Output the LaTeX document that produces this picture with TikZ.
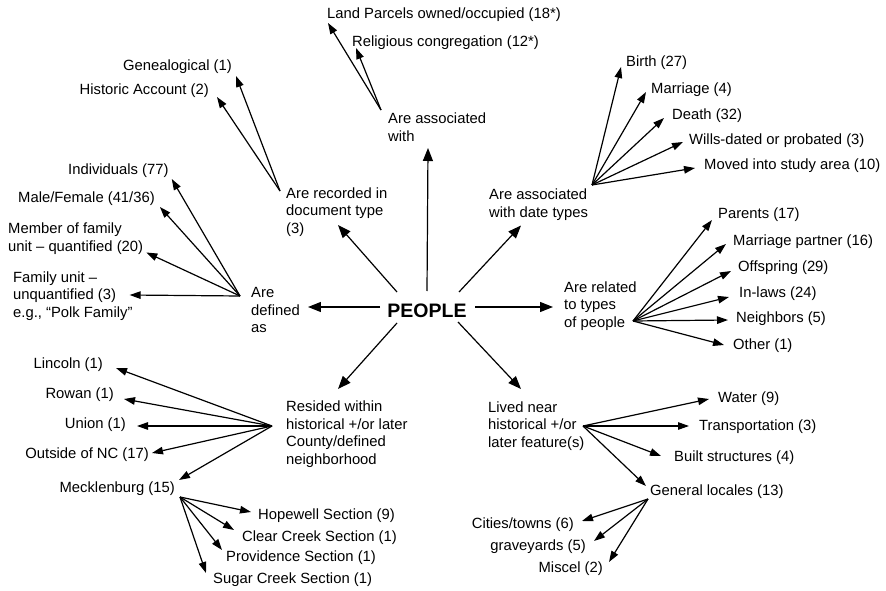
\documentclass[tikz,border=0pt]{standalone}
\usepackage{fontspec}
\setmainfont{Liberation Sans}
\usetikzlibrary{arrows.meta,calc}
\begin{document}
\begin{tikzpicture}[x=1pt,y=-1pt,
  lbl/.style={inner sep=1pt, font=\fontsize{14.8}{17.5}\selectfont, align=left},
  lw/.style={lbl, anchor=west},
  le/.style={lbl, anchor=east},
  arr/.style={-{Triangle[length=11pt,width=7.5pt]}, line width=1.2pt},
  mainarr/.style={-{Triangle[length=13pt,width=10pt]}, line width=1.2pt},
  ]
\useasboundingbox[fill=white] (0,0) rectangle (886,591);

% centre
\node[lbl, font=\bfseries\fontsize{19.5}{22}\selectfont] (people) at (427,311) {PEOPLE};

% second-level nodes
\node[lw] (assoc) at (387,127) {Are associated\\with};
\node[lw] (recorded) at (285,212) {Are recorded in\\document type\\(3)};
\node[lw] (defined) at (250,310) {Are\\defined\\as};
\node[lw] (dates) at (488,204.5) {Are associated\\with date types};
\node[lw] (related) at (563,306) {Are related\\to types\\of people};
\node[lw] (resided) at (285,434) {Resided within\\historical +/or later\\County/defined\\neighborhood};
\node[lw] (lived) at (487,426) {Lived near\\historical +/or\\later feature(s)};

% leaves
\node[lw] (land) at (326,15) {Land Parcels owned/occupied (18*)};
\node[lw] (relig) at (351,43) {Religious congregation (12*)};
\node[le] (geneal) at (233,67) {Genealogical (1)};
\node[le] (hist) at (210,91) {Historic Account (2)};
\node[lw] (ind) at (67,171) {Individuals (77)};
\node[lw] (male) at (17,199) {Male/Female (41/36)};
\node[lw] (member) at (7,238.5) {Member of family\\unit – quantified (20)};
\node[lw] (famunit) at (12,296) {Family unit –\\unquantified (3)\\e.g., “Polk Family”};
\node[lw] (birth) at (625,63) {Birth (27)};
\node[lw] (marriage) at (650,90) {Marriage (4)};
\node[lw] (death) at (671,116) {Death (32)};
\node[lw] (wills) at (688,141) {Wills-dated or probated (3)};
\node[lw] (moved) at (703,166) {Moved into study area (10)};
\node[lw] (parents) at (717,215) {Parents (17)};
\node[lw] (partner) at (732,242) {Marriage partner (16)};
\node[lw] (offspring) at (737,268) {Offspring (29)};
\node[lw] (inlaws) at (738,294) {In-laws (24)};
\node[lw] (neighbors) at (735,319) {Neighbors (5)};
\node[lw] (other) at (732,346) {Other (1)};
\node[le] (lincoln) at (104,365) {Lincoln (1)};
\node[le] (rowan) at (115,395) {Rowan (1)};
\node[le] (union) at (127,425) {Union (1)};
\node[le] (outside) at (150,455) {Outside of NC (17)};
\node[le] (meck) at (176,489) {Mecklenburg (15)};
\node[lw] (hopewell) at (257,516) {Hopewell Section (9)};
\node[lw] (clear) at (241,538) {Clear Creek Section (1)};
\node[lw] (providence) at (225,558) {Providence Section (1)};
\node[lw] (sugar) at (212,580) {Sugar Creek Section (1)};
\node[lw] (water) at (717,399) {Water (9)};
\node[lw] (transport) at (698,427) {Transportation (3)};
\node[lw] (built) at (673,458) {Built structures (4)};
\node[lw] (general) at (649,492) {General locales (13)};
\node[le] (cities) at (575,525) {Cities/towns (6)};
\node[le] (graveyards) at (587,547) {graveyards (5)};
\node[le] (miscel) at (604,569) {Miscel (2)};

% fan origins
\coordinate (aO) at (381,110);
\coordinate (recO) at (280,191);
\coordinate (dO) at (240,296);
\coordinate (dtO) at (592,185);
\coordinate (rO) at (633,321);
\coordinate (resO) at (272,426);
\coordinate (mO) at (180,497);
\coordinate (lO) at (583,426);
\coordinate (gO) at (648,499);

% from PEOPLE
\draw[mainarr] ($(people)+(0,-20)$) -- ($(assoc.west)+(41,21)$);
\draw[mainarr] ($(people)+(-30,-19)$) -- ($(recorded.west)+(53,13)$);
\draw[mainarr] ($(people)+(-47,-4)$) -- ($(defined.east)+(7,-3)$);
\draw[mainarr] ($(people)+(48,-4)$) -- ($(related.west)+(-10,1)$);
\draw[mainarr] ($(people)+(32,-19)$) -- ($(dates.west)+(33,21)$);
\draw[mainarr] ($(people)+(-30,12)$) -- ($(resided.west)+(53,-45)$);
\draw[mainarr] ($(people)+(31,11)$) -- ($(lived.west)+(34,-37)$);

% associated with
\draw[arr] (aO) -- ($(land.west)+(2,8)$);
\draw[arr] (aO) -- ($(relig.west)+(5,5)$);

% recorded in
\draw[arr] (recO) -- ($(geneal.east)+(3,9)$);
\draw[arr] (recO) -- ($(hist.east)+(7,6)$);

% defined as
\draw[arr] (dO) -- ($(ind.east)+(2,8)$);
\draw[arr] (dO) -- ($(male.east)+(4,8)$);
\draw[arr] (dO) -- ($(member.east)+(2,14)$);
\draw[arr] (dO) -- ($(famunit.east)+(-4,-1)$);

% date types
\draw[arr] (dtO) -- ($(birth.west)+(-4,4)$);
\draw[arr] (dtO) -- ($(marriage.west)+(-4,2)$);
\draw[arr] (dtO) -- ($(death.west)+(-7,2)$);
\draw[arr] (dtO) -- ($(wills.west)+(-5,1)$);
\draw[arr] (dtO) -- ($(moved.west)+(-8,2)$);

% related to
\draw[arr] (rO) -- ($(parents.west)+(-5,5)$);
\draw[arr] (rO) -- ($(partner.west)+(-6,2)$);
\draw[arr] (rO) -- ($(offspring.west)+(-6,3)$);
\draw[arr] (rO) -- ($(inlaws.west)+(-9,3)$);
\draw[arr] (rO) -- ($(neighbors.west)+(-7,1)$);
\draw[arr] (rO) -- ($(other.west)+(-8,-1)$);

% resided within
\draw[arr] (resO) -- ($(lincoln.east)+(12,3)$);
\draw[arr] (resO) -- ($(rowan.east)+(9,4)$);
\draw[arr] (resO) -- ($(union.east)+(10,1)$);
\draw[arr] (resO) -- ($(outside.east)+(2,-2)$);
\draw[arr] (resO) -- ($(meck.east)+(3,-9)$);

% Mecklenburg
\draw[arr] (mO) -- ($(hopewell.west)+(-6,-4)$);
\draw[arr] (mO) -- ($(clear.west)+(-7,-8)$);
\draw[arr] (mO) -- ($(providence.west)+(-3,-8)$);
\draw[arr] (mO) -- ($(sugar.west)+(-6,-7)$);

% lived near
\draw[arr] (lO) -- ($(water.west)+(-8,0)$);
\draw[arr] (lO) -- ($(transport.west)+(-9,-1)$);
\draw[arr] (lO) -- ($(built.west)+(-12,-2)$);
\draw[arr] (lO) -- ($(general.west)+(-3,-6)$);

% general locales
\draw[arr] (gO) -- ($(cities.east)+(7,-4)$);
\draw[arr] (gO) -- ($(graveyards.east)+(7,-6)$);
\draw[arr] (gO) -- ($(miscel.east)+(5,-7)$);
\end{tikzpicture}
\end{document}
